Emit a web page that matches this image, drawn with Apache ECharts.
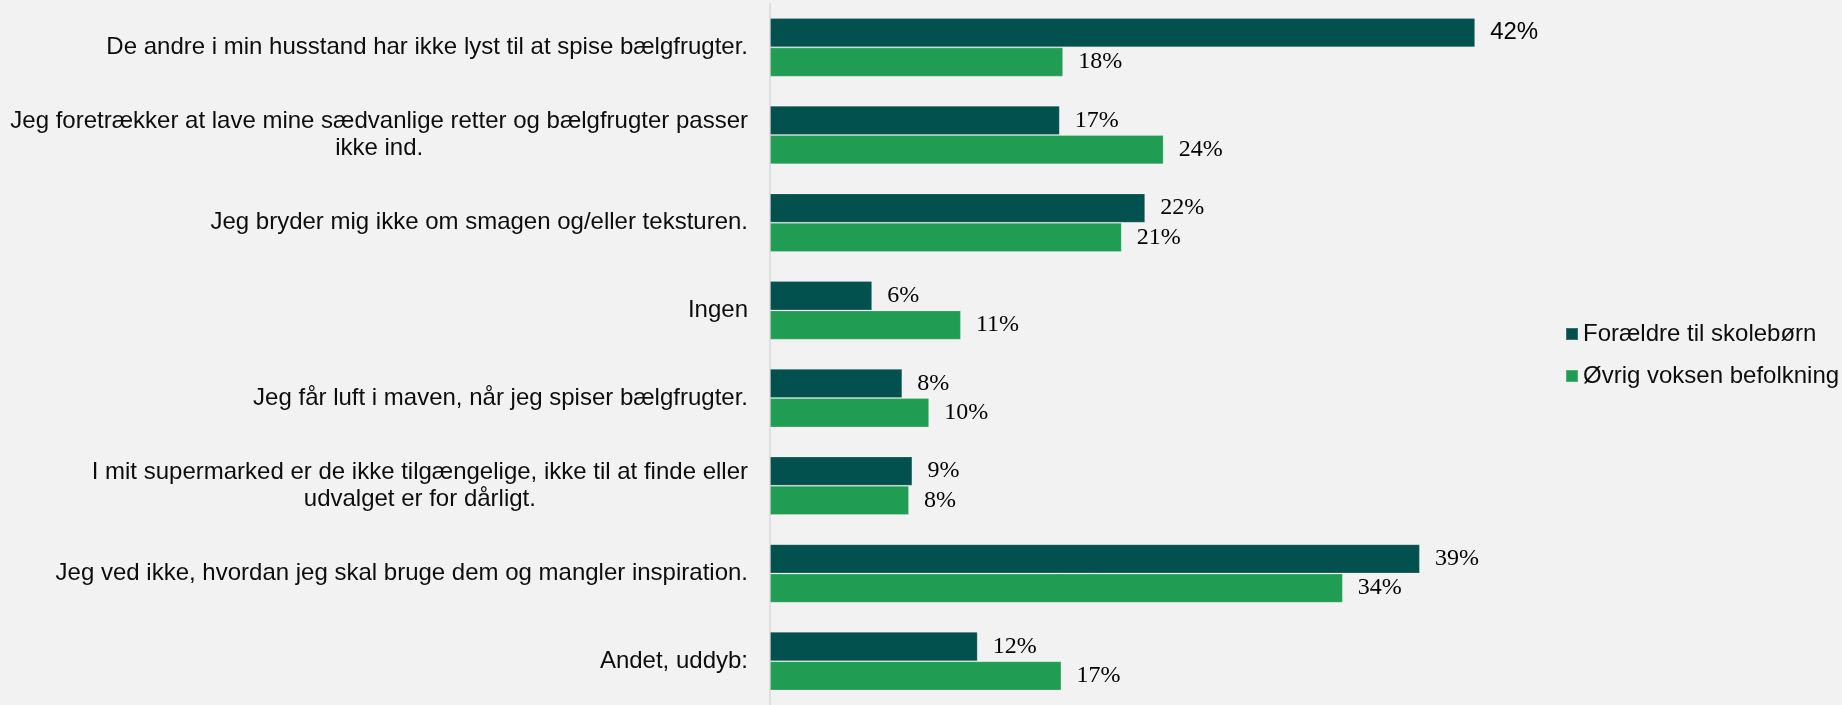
<!DOCTYPE html>
<html>
<head>
<meta charset="utf-8">
<script src="https://cdn.jsdelivr.net/npm/echarts@6/dist/echarts.min.js"></script>
<style>
  html, body { margin: 0; padding: 0; background: #f2f2f2; }
  #chart { width: 1842px; height: 705px; }
</style>
</head>
<body>
<div id="chart"></div>
<script>
// kategorier, top til bund
var categories = [
  'De andre i min husstand har ikke lyst til at spise bælgfrugter.',
  'Jeg foretrækker at lave mine sædvanlige retter og bælgfrugter passer\nikke ind.',
  'Jeg bryder mig ikke om smagen og/eller teksturen.',
  'Ingen',
  'Jeg får luft i maven, når jeg spiser bælgfrugter.',
  'I mit supermarked er de ikke tilgængelige, ikke til at finde eller\nudvalget er for dårligt.',
  'Jeg ved ikke, hvordan jeg skal bruge dem og mangler inspiration.',
  'Andet, uddyb:'
];
var seriesNames = ['Forældre til skolebørn', 'Øvrig voksen befolkning'];
var parents = [42.1, 17.3, 22.4, 6.1, 7.9, 8.5, 38.8, 12.4];
var others = [17.5, 23.5, 21.0, 11.4, 9.5, 8.3, 34.2, 17.4];

var chart = echarts.init(document.getElementById('chart'));

var labelStyle = {
  show: true,
  position: 'right',
  distance: 15,
  color: '#000',
  fontSize: 24,
  fontFamily: '"Liberation Serif", "Times New Roman", serif',
  formatter: function (p) {
    return Math.round(p.value) + '%';
  }
};

chart.setOption({
  backgroundColor: '#f2f2f2',
  animation: false,
  legend: {
    orient: 'vertical',
    left: 1565,
    top: 322,
    padding: 0,
    itemWidth: 12,
    itemHeight: 12,
    itemGap: 18,
    icon: 'rect',
    textStyle: {
      fontSize: 24,
      lineHeight: 24,
      color: '#0d0d0d',
      fontFamily: '"Liberation Sans", Arial, sans-serif'
    },
    data: seriesNames
  },
  grid: {
    left: 770,
    width: 837.5,
    top: 3.5,
    height: 703.3
  },
  xAxis: {
    type: 'value',
    min: 0,
    max: 50,
    show: false,
    splitLine: { show: false }
  },
  yAxis: {
    type: 'category',
    inverse: true,
    data: categories,
    axisTick: { show: false },
    axisLine: { show: true, lineStyle: { color: '#d9d9d9', width: 1.5 } },
    axisLabel: {
      margin: 22,
      formatter: function (v) {
        return v.split('\n').map(function (l) { return '{c|' + l + '}'; }).join('\n');
      },
      rich: {
        c: {
          fontSize: 24,
          lineHeight: 27,
          align: 'center',
          color: '#0d0d0d',
          fontFamily: '"Liberation Sans", Arial, sans-serif'
        }
      }
    }
  },
  series: [
    {
      name: seriesNames[0],
      type: 'bar',
      barWidth: 29.3,
      barGap: '0%',
      itemStyle: { color: '#02514f', borderColor: 'rgba(255,255,255,0.2)', borderWidth: 1 },
      label: labelStyle,
      data: parents.map(function (v, i) {
        // første etiket er sat med sans-serif i originalen
        return i === 0 ? { value: v, label: { fontFamily: '"Liberation Sans", Arial, sans-serif' } } : v;
      })
    },
    {
      name: seriesNames[1],
      type: 'bar',
      barWidth: 29.3,
      barGap: '0%',
      itemStyle: { color: '#219d53', borderColor: 'rgba(255,255,255,0.2)', borderWidth: 1 },
      label: labelStyle,
      data: others
    }
  ]
});
</script>
</body>
</html>
